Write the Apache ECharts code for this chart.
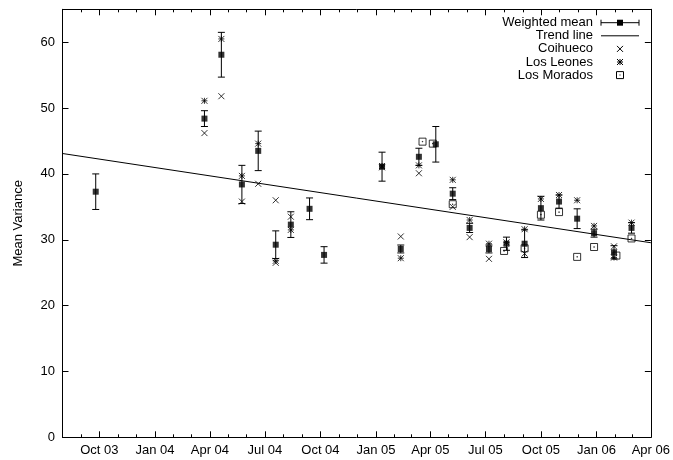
<!DOCTYPE html>
<html>
<head>
<meta charset="utf-8">
<script src="https://cdn.jsdelivr.net/npm/echarts@6/dist/echarts.min.js"></script>
<style>
  html, body { margin: 0; padding: 0; background: #fff; }
  #chart { width: 673px; height: 460px; }
</style>
</head>
<body>
<div id="chart"></div>
<script>
// Weighted mean of the variance per measurement campaign, with its uncertainty
const meanDates = ['2003-09-25','2004-03-23','2004-04-20','2004-05-24','2004-06-20','2004-07-19',
  '2004-08-13','2004-09-13','2004-10-07','2005-01-11','2005-02-11','2005-03-13','2005-04-10',
  '2005-05-08','2005-06-05','2005-07-07','2005-08-05','2005-09-04','2005-10-01','2005-10-31',
  '2005-11-30','2005-12-28','2006-01-30','2006-02-28'];
const meanValues = [37.3, 48.4, 58.1, 38.4, 43.5, 29.25, 32.3, 34.7, 27.7, 41.1, 28.6, 42.6, 44.5,
  37.0, 31.8, 28.6, 29.4, 29.4, 34.8, 35.8, 33.2, 31.0, 28.1, 31.8];
const meanErrors = [2.7, 1.2, 3.4, 2.9, 3.0, 2.1, 1.95, 1.65, 1.25, 2.2, 0.6, 1.3, 2.7,
  0.9, 0.7, 0.6, 1.0, 2.1, 1.8, 1.0, 1.5, 0.6, 1.0, 0.8];

// Individual sites
const coihuecoDates = ['2004-03-23','2004-04-20','2004-05-24','2004-06-20','2004-07-19','2004-07-19',
  '2004-08-13','2005-01-11','2005-02-11','2005-03-13','2005-05-08','2005-06-05','2005-07-07',
  '2005-09-04','2006-01-30'];
const coihuecoValues = [46.2, 51.8, 35.8, 38.5, 36.0, 26.5, 33.5, 41.0, 30.5, 40.1, 35.0, 30.4, 27.1,
  27.9, 29.0];

const leonesDates = ['2004-03-23','2004-04-20','2004-05-24','2004-06-20','2004-07-19','2004-08-13',
  '2005-01-11','2005-02-11','2005-03-13','2005-05-08','2005-06-05','2005-07-07','2005-08-05',
  '2005-09-04','2005-10-01','2005-10-31','2005-11-30','2005-12-28','2006-01-30','2006-02-28'];
const leonesValues = [51.1, 60.5, 39.7, 44.6, 26.8, 31.5, 41.2, 27.2, 41.3, 39.1, 33.0, 29.4, 29.6,
  31.6, 36.2, 36.8, 36.0, 32.1, 27.3, 32.6];

const moradosDates = ['2005-03-19','2005-04-05','2005-05-08','2005-08-01','2005-09-04','2005-10-01',
  '2005-10-31','2005-11-30','2005-12-28','2006-02-03','2006-02-28'];
const moradosValues = [44.9, 44.6, 35.4, 28.3, 28.7, 33.8, 34.2, 27.4, 28.9, 27.6, 30.2];

// Linear trend, given at the two ends of the time range
const trendDates = ['2003-08-01', '2006-04-01'];
const trendValues = [43.1, 29.55];

// Axis range and ticks
const xRange = ['2003-08-01', '2006-04-01'];
const quarterTicks = ['2003-10-01','2004-01-01','2004-04-01','2004-07-01','2004-10-01','2005-01-01',
  '2005-04-01','2005-07-01','2005-10-01','2006-01-01','2006-04-01'];
const quarterLabels = ['Oct 03','Jan 04','Apr 04','Jul 04','Oct 04','Jan 05','Apr 05','Jul 05',
  'Oct 05','Jan 06','Apr 06'];
const monthTicks = ['2003-09-01','2003-11-01','2003-12-01','2004-02-01','2004-03-01','2004-05-01',
  '2004-06-01','2004-08-01','2004-09-01','2004-11-01','2004-12-01','2005-02-01','2005-03-01',
  '2005-05-01','2005-06-01','2005-08-01','2005-09-01','2005-11-01','2005-12-01','2006-02-01',
  '2006-03-01'];
const yTicks = [0, 10, 20, 30, 40, 50, 60];
const yMax = 65;

const T = s => Date.parse(s);
const pairs = (d, v) => d.map((s, i) => [T(s), v[i]]);

const FONT = 'Liberation Sans';
const black = '#000';

const quarterTs = quarterTicks.map(T);
const monthTs = monthTicks.map(T);
const labelFor = v => {
  const i = quarterTs.indexOf(v);
  return i >= 0 ? quarterLabels[i] : '';
};

const xBase = {
  type: 'value', min: T(xRange[0]), max: T(xRange[1]),
  splitLine: { show: false }
};

const symCross = 'path://M0,0L10,10M10,0L0,10';
const symStar = 'path://M0,0L10,10M10,0L0,10M5,0L5,10M0,5L10,5';
const symBoxDot = 'path://M0,0L10,0L10,10L0,10Z M4.6,4.6L5.4,4.6L5.4,5.4L4.6,5.4Z';

const chart = echarts.init(document.getElementById('chart'), null, { renderer: 'canvas' });

// Legend in the upper-right corner: text right-aligned, sample to its right
const legendX = 593, sampleL = 601, sampleR = 639, sampleC = 620;
const legendY = k => 22.7 + 13.1 * k;
const legendText = (t, k) => ({
  type: 'text', x: legendX, y: legendY(k),
  style: { text: t, align: 'right', verticalAlign: 'middle', font: '13px "' + FONT + '"', fill: black }
});
const lineEl = (x1, y1, x2, y2) => ({
  type: 'line', shape: { x1, y1, x2, y2 }, style: { stroke: black, lineWidth: 1 }
});
const crossEls = (cx, cy, r) => [
  lineEl(cx - r, cy - r, cx + r, cy + r),
  lineEl(cx + r, cy - r, cx - r, cy + r)
];

const graphics = [
  legendText('Weighted mean', 0),
  lineEl(sampleL, legendY(0), sampleR, legendY(0)),
  lineEl(sampleL, legendY(0) - 3, sampleL, legendY(0) + 3),
  lineEl(sampleR, legendY(0) - 3, sampleR, legendY(0) + 3),
  { type: 'rect', shape: { x: sampleC - 3, y: legendY(0) - 3, width: 6, height: 6 }, style: { fill: black } },
  legendText('Trend line', 1),
  lineEl(sampleL, legendY(1), sampleR, legendY(1)),
  legendText('Coihueco', 2),
  ...crossEls(sampleC, legendY(2), 3),
  legendText('Los Leones', 3),
  ...crossEls(sampleC, legendY(3), 3),
  lineEl(sampleC, legendY(3) - 3, sampleC, legendY(3) + 3),
  lineEl(sampleC - 3, legendY(3), sampleC + 3, legendY(3)),
  legendText('Los Morados', 4),
  { type: 'rect', shape: { x: sampleC - 3.5, y: legendY(4) - 3.5, width: 7, height: 7 },
    style: { stroke: black, fill: null, lineWidth: 1 } },
  { type: 'rect', shape: { x: sampleC - 0.5, y: legendY(4) - 0.5, width: 1, height: 1 }, style: { fill: black } }
];

const option = {
  backgroundColor: '#fff',
  animation: false,
  textStyle: { fontFamily: FONT },
  grid: { left: 62.5, right: 19, top: 9.3, bottom: 22.7, containLabel: false },
  xAxis: [
    Object.assign({}, xBase, {
      position: 'bottom',
      axisLine: { show: true, lineStyle: { color: black, width: 1 } },
      axisTick: { show: true, inside: true, length: 6, customValues: quarterTs, lineStyle: { color: black } },
      axisLabel: { show: true, customValues: quarterTs, formatter: labelFor, color: black,
        fontFamily: FONT, fontSize: 13, margin: 7 }
    }),
    Object.assign({}, xBase, {
      position: 'bottom',
      axisLine: { show: false },
      axisTick: { show: true, inside: true, length: 3, customValues: monthTs, lineStyle: { color: black } },
      axisLabel: { show: false }
    }),
    Object.assign({}, xBase, {
      position: 'top',
      axisLine: { show: true, lineStyle: { color: black, width: 1 } },
      axisTick: { show: true, inside: true, length: 6, customValues: quarterTs, lineStyle: { color: black } },
      axisLabel: { show: false }
    }),
    Object.assign({}, xBase, {
      position: 'top',
      axisLine: { show: false },
      axisTick: { show: true, inside: true, length: 3, customValues: monthTs, lineStyle: { color: black } },
      axisLabel: { show: false }
    })
  ],
  yAxis: [
    {
      type: 'value', position: 'left', min: 0, max: yMax,
      name: 'Mean Variance', nameLocation: 'middle', nameGap: 38, nameRotate: 90,
      nameTextStyle: { color: black, fontFamily: FONT, fontSize: 13 },
      splitLine: { show: false },
      axisLine: { show: true, lineStyle: { color: black, width: 1 } },
      axisTick: { show: true, inside: true, length: 6, customValues: yTicks, lineStyle: { color: black } },
      axisLabel: { show: true, customValues: yTicks, color: black, fontFamily: FONT, fontSize: 13, margin: 7.5 }
    },
    {
      type: 'value', position: 'right', min: 0, max: yMax,
      splitLine: { show: false },
      axisLine: { show: true, lineStyle: { color: black, width: 1 } },
      axisTick: { show: true, inside: true, length: 6, customValues: yTicks, lineStyle: { color: black } },
      axisLabel: { show: false }
    }
  ],
  graphic: graphics,
  series: [
    {
      name: 'Trend line', type: 'line', xAxisIndex: 0, yAxisIndex: 0,
      data: pairs(trendDates, trendValues),
      showSymbol: false, silent: true, z: 1,
      lineStyle: { color: black, width: 1 }
    },
    {
      name: 'Weighted mean error', type: 'custom', xAxisIndex: 0, yAxisIndex: 0, z: 3,
      data: meanDates.map((s, i) => [T(s), meanValues[i], meanErrors[i]]),
      encode: { x: 0, y: 1 },
      renderItem: (params, api) => {
        const t = api.value(0), v = api.value(1), e = api.value(2);
        const hi = api.coord([t, v + e]);
        const lo = api.coord([t, v - e]);
        const c = 3.5;
        const st = { stroke: black, lineWidth: 1 };
        return {
          type: 'group',
          children: [
            { type: 'line', shape: { x1: hi[0], y1: hi[1], x2: lo[0], y2: lo[1] }, style: st },
            { type: 'line', shape: { x1: hi[0] - c, y1: hi[1], x2: hi[0] + c, y2: hi[1] }, style: st },
            { type: 'line', shape: { x1: lo[0] - c, y1: lo[1], x2: lo[0] + c, y2: lo[1] }, style: st }
          ]
        };
      }
    },
    {
      name: 'Weighted mean', type: 'scatter', xAxisIndex: 0, yAxisIndex: 0, z: 4,
      data: pairs(meanDates, meanValues),
      symbol: 'rect', symbolSize: 6,
      itemStyle: { color: black }
    },
    {
      name: 'Coihueco', type: 'scatter', xAxisIndex: 0, yAxisIndex: 0, z: 2,
      data: pairs(coihuecoDates, coihuecoValues),
      symbol: symCross, symbolSize: 6,
      itemStyle: { color: 'rgba(0,0,0,0)', borderColor: black, borderWidth: 1 }
    },
    {
      name: 'Los Leones', type: 'scatter', xAxisIndex: 0, yAxisIndex: 0, z: 2,
      data: pairs(leonesDates, leonesValues),
      symbol: symStar, symbolSize: 6,
      itemStyle: { color: 'rgba(0,0,0,0)', borderColor: black, borderWidth: 1 }
    },
    {
      name: 'Los Morados', type: 'scatter', xAxisIndex: 0, yAxisIndex: 0, z: 2,
      data: pairs(moradosDates, moradosValues),
      symbol: symBoxDot, symbolSize: 7,
      itemStyle: { color: 'rgba(0,0,0,0)', borderColor: black, borderWidth: 1 }
    }
  ]
};

chart.setOption(option);
</script>
</body>
</html>
